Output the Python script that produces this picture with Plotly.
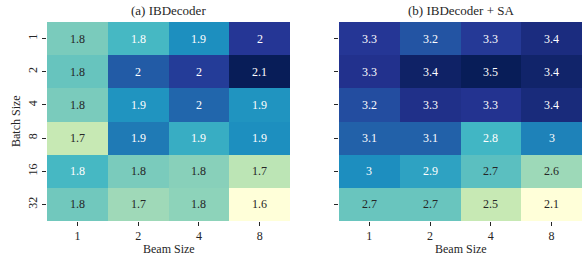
import plotly.graph_objects as go

beam_sizes = ["1", "2", "4", "8"]
batch_sizes = ["1", "2", "4", "8", "16", "32"]

# (a) IBDecoder  — rows: batch size, cols: beam size
ib_values = [
    [1.78, 1.835, 1.908, 2.032],
    [1.80, 1.975, 2.022, 2.10],
    [1.78, 1.90, 1.96, 1.90],
    [1.71, 1.934, 1.856, 1.908],
    [1.835, 1.78, 1.767, 1.72],
    [1.79, 1.746, 1.762, 1.58],
]
# (b) IBDecoder + SA
sa_values = [
    [3.30, 3.18, 3.29, 3.37],
    [3.33, 3.44, 3.48, 3.43],
    [3.21, 3.34, 3.32, 3.38],
    [3.13, 3.13, 2.80, 3.02],
    [2.98, 2.89, 2.73, 2.56],
    [2.69, 2.69, 2.46, 2.12],
]

titles = ["(a) IBDecoder", "(b) IBDecoder + SA"]

ylgnbu = ["#ffffd9", "#edf8b1", "#c7e9b4", "#7fcdbb", "#41b6c4",
          "#1d91c0", "#225ea8", "#253494", "#081d58"]
colorscale = [[i / 8, c] for i, c in enumerate(ylgnbu)]

FONT = "'Liberation Serif', 'Times New Roman', 'DejaVu Serif', serif"


def hex2rgb(h):
    h = h.lstrip("#")
    return [int(h[i:i + 2], 16) / 255 for i in (0, 2, 4)]


def color_at(t):
    t = min(max(t, 0), 1)
    pos = t * 8
    i = min(int(pos), 7)
    f = pos - i
    a, b = hex2rgb(ylgnbu[i]), hex2rgb(ylgnbu[i + 1])
    return [a[k] + (b[k] - a[k]) * f for k in range(3)]


def rel_lum(rgb):
    out = []
    for c in rgb:
        out.append(c / 12.92 if c <= 0.03928 else ((c + 0.055) / 1.055) ** 2.4)
    return 0.2126 * out[0] + 0.7152 * out[1] + 0.0722 * out[2]


def fmt(v):
    return f"{v:.2g}"


fig = go.Figure()
W, H = 583, 260
domains = [[47 / W, 290 / W], [339 / W, 582 / W]]
ydom = [1 - 221 / H, 1 - 22 / H]
annotations = []
xi = list(range(len(beam_sizes)))
yi = list(range(len(batch_sizes)))

for k, vals in enumerate([ib_values, sa_values]):
    xa = "x" if k == 0 else "x2"
    ya = "y" if k == 0 else "y2"
    flat = [v for row in vals for v in row]
    vmin, vmax = min(flat), max(flat)
    fig.add_trace(go.Heatmap(
        z=vals, x=xi, y=yi, xaxis=xa, yaxis=ya,
        colorscale=colorscale, zmin=vmin, zmax=vmax, showscale=False,
        xgap=0, ygap=0, hoverinfo="skip",
    ))
    for r in yi:
        for c in xi:
            v = vals[r][c]
            lum = rel_lum(color_at((v - vmin) / (vmax - vmin)))
            tc = "#262626" if lum > 0.408 else "#ffffff"
            annotations.append(dict(
                x=c, y=r, xref=xa, yref=ya, text=fmt(v), showarrow=False,
                font=dict(family=FONT, size=12, color=tc)))
    cx = (domains[k][0] + domains[k][1]) / 2
    annotations.append(dict(x=cx, y=1 - 11 / H, xref="paper", yref="paper",
                            text=titles[k], showarrow=False,
                            xanchor="center", yanchor="middle",
                            font=dict(family=FONT, size=13, color="#262626")))
    annotations.append(dict(x=cx, y=1 - 249 / H, xref="paper", yref="paper",
                            text="Beam Size", showarrow=False,
                            xanchor="center", yanchor="middle",
                            font=dict(family=FONT, size=12, color="#262626")))

annotations.append(dict(x=16 / W, y=1 - 121 / H, xref="paper", yref="paper",
                        text="Batch Size", showarrow=False, textangle=-90,
                        xanchor="center", yanchor="middle",
                        font=dict(family=FONT, size=12, color="#262626")))

axis_common = dict(ticks="outside", ticklen=4, tickwidth=1,
                   tickcolor="#262626", showgrid=False, zeroline=False,
                   showline=False,
                   tickfont=dict(family=FONT, size=12, color="#262626"))
xaxis_kw = dict(tickmode="array", tickvals=xi, ticktext=beam_sizes,
                range=[-0.5, len(xi) - 0.5], **axis_common)
yaxis_kw = dict(tickmode="array", tickvals=yi, ticktext=batch_sizes,
                range=[len(yi) - 0.5, -0.5], **axis_common)

fig.update_layout(
    width=W, height=H, margin=dict(l=0, r=0, t=0, b=0),
    paper_bgcolor="white", plot_bgcolor="white",
    font=dict(family=FONT),
    xaxis=dict(domain=domains[0], anchor="y", **xaxis_kw),
    yaxis=dict(domain=ydom, anchor="x", tickangle=-90, **yaxis_kw),
    xaxis2=dict(domain=domains[1], anchor="y2", **xaxis_kw),
    yaxis2=dict(domain=ydom, anchor="x2", showticklabels=False, **yaxis_kw),
    annotations=annotations,
    showlegend=False,
)

fig.write_html("out.html", config={"displayModeBar": False},
               post_script="document.body.style.margin='0';"
                           "document.body.style.overflow='hidden';")
